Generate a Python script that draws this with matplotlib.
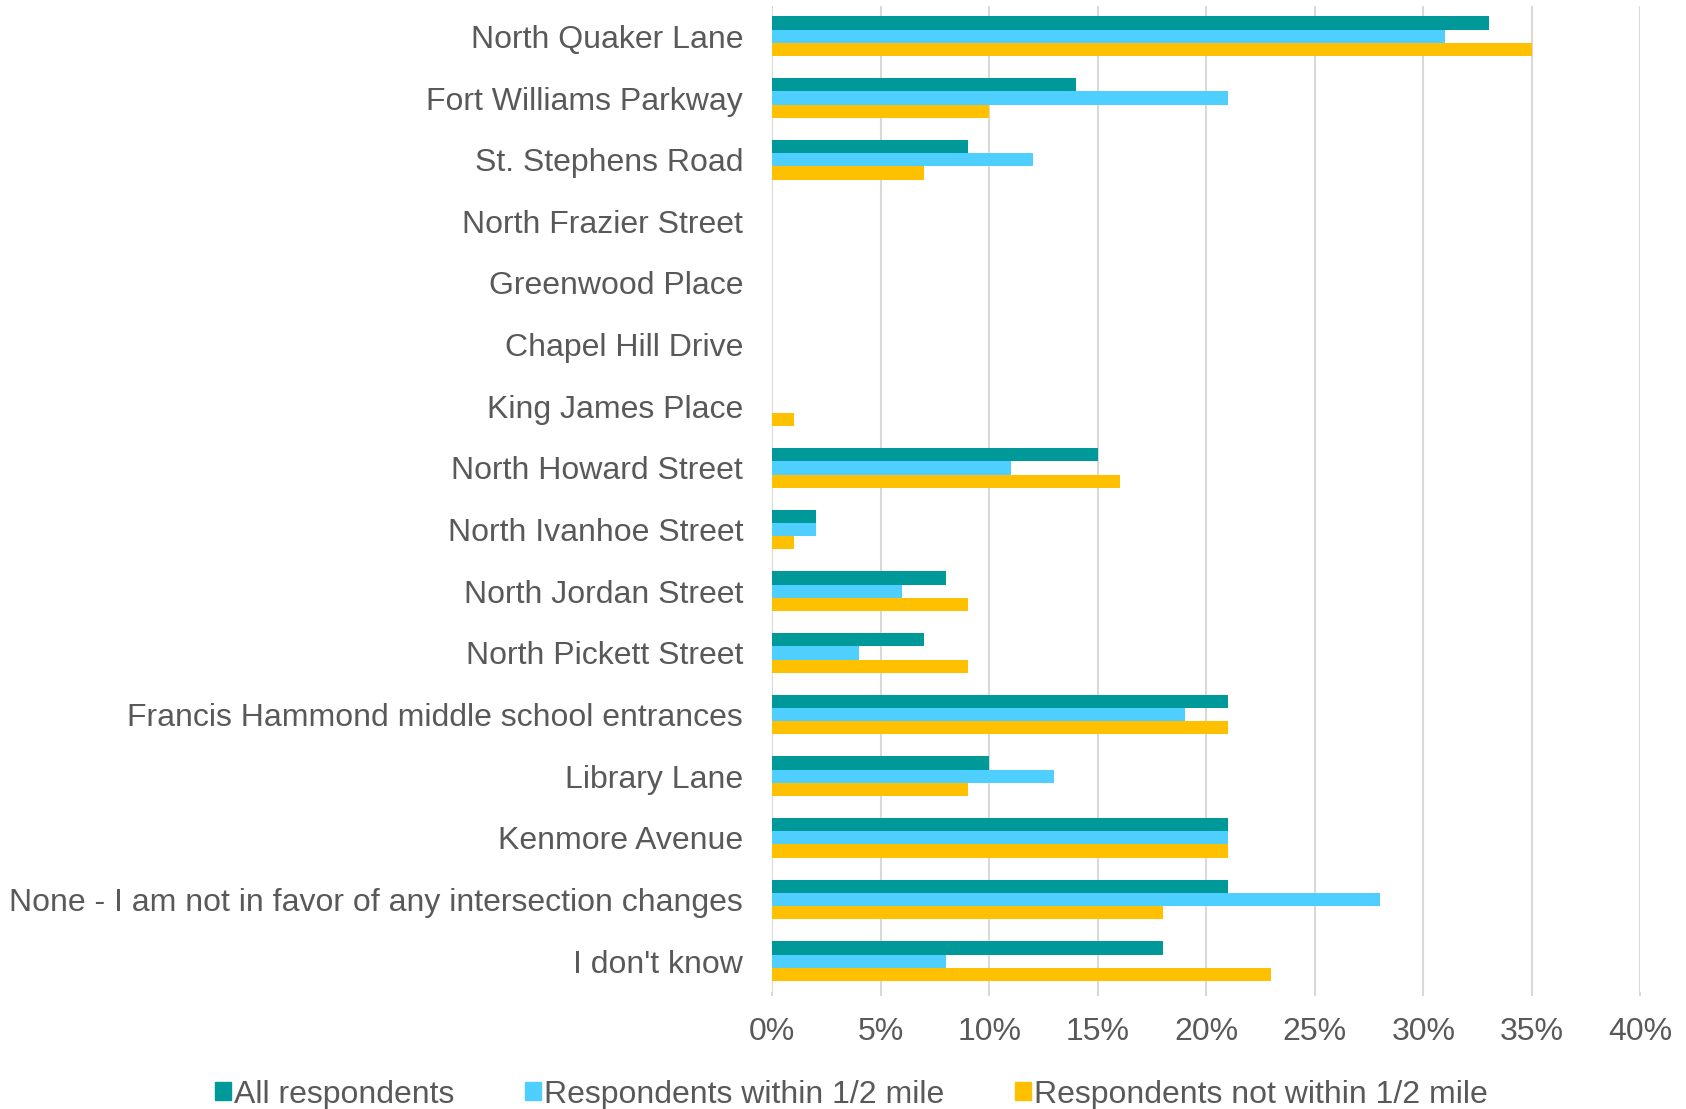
import numpy as np
import matplotlib
matplotlib.use("Agg")
import matplotlib.pyplot as plt
from matplotlib.patches import Patch
from matplotlib.ticker import PercentFormatter

# Survey data (percent of respondents)
categories = [
    "North Quaker Lane", "Fort Williams Parkway", "St. Stephens Road",
    "North Frazier Street", "Greenwood Place", "Chapel Hill Drive",
    "King James Place", "North Howard Street", "North Ivanhoe Street",
    "North Jordan Street", "North Pickett Street",
    "Francis Hammond middle school entrances", "Library Lane",
    "Kenmore Avenue", "None - I am not in favor of any intersection changes",
    "I don't know",
]
all_resp = [33, 14, 9, 0, 0, 0, 0, 15, 2, 8, 7, 21, 10, 21, 21, 18]
within = [31, 21, 12, 0, 0, 0, 0, 11, 2, 6, 4, 19, 13, 21, 28, 8]
not_within = [35, 10, 7, 0, 0, 0, 1, 16, 1, 9, 9, 21, 9, 21, 18, 23]
series_names = ["All respondents", "Respondents within 1/2 mile",
                "Respondents not within 1/2 mile"]
colors = ["#009999", "#4FCFFF", "#FFC000"]

text_color = "#595959"
plt.rcParams["font.family"] = ["Liberation Sans", "DejaVu Sans"]

fig = plt.figure(figsize=(16.86, 11.09), dpi=100)
ax = fig.add_axes([0.458, 0.1055, 0.515, 0.8895])

y = np.arange(len(categories))
h = 0.215
for i, (vals, c) in enumerate(zip([all_resp, within, not_within], colors)):
    ax.barh(y + (i - 1) * h, vals, height=h, color=c, zorder=3)

ax.set_ylim(len(categories) - 0.5, -0.5)
ax.set_xlim(0, 40)
ax.set_xticks(np.arange(0, 41, 5))
ax.xaxis.set_major_formatter(PercentFormatter(decimals=0))
ax.set_yticks(y)
ax.set_yticklabels(categories)

ax.grid(axis="x", color="#D9D9D9", linewidth=1.5, zorder=0)
for s in ax.spines.values():
    s.set_visible(False)
ax.tick_params(axis="y", length=0, pad=21, labelsize=23, labelcolor=text_color)
ax.tick_params(axis="x", length=3, width=1.5, color="#D9D9D9", pad=15,
               labelsize=23, labelcolor=text_color)

handles = [Patch(color=c) for c in colors]
fig.legend(handles, series_names, loc="center", bbox_to_anchor=(0.505, 0.013),
           ncol=3, frameon=False, fontsize=23, labelcolor=text_color,
           handlelength=0.5, handleheight=0.5, handletextpad=0.1,
           columnspacing=2.2)

fig.savefig("out.png", dpi=100)
